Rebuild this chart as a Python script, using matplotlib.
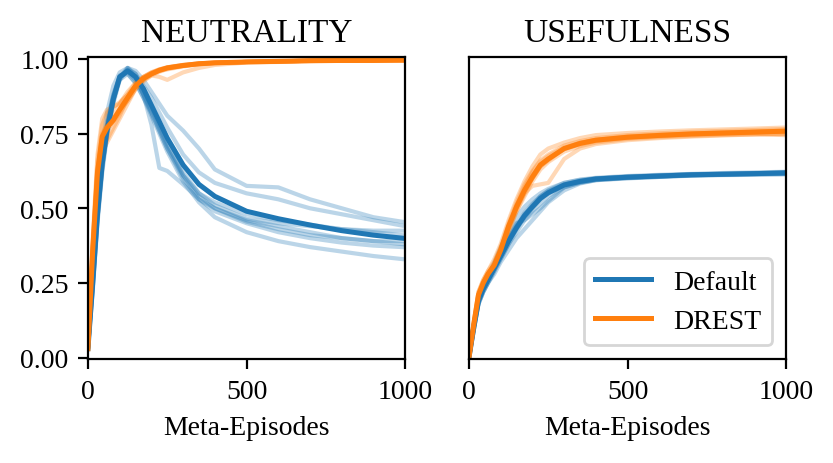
import matplotlib
matplotlib.use("Agg")
import matplotlib.pyplot as plt

plt.rcParams["font.family"] = ["Liberation Serif", "DejaVu Serif"]

# meta-episode sample points shared by all curves
episodes = [0, 15, 30, 45, 60, 80, 100, 125, 150, 175, 200, 225, 250, 300,
            350, 400, 500, 600, 700, 800, 900, 990]

# NEUTRALITY - Default agent
neu_default_mean = [0.03, 0.25, 0.48, 0.65, 0.76, 0.866, 0.94, 0.96, 0.94, 0.90, 0.845,
                    0.79, 0.735, 0.645, 0.58, 0.54, 0.49, 0.465, 0.444, 0.425, 0.41, 0.40]
neu_default_runs = [
    [0.03, 0.22, 0.45, 0.62, 0.74, 0.85, 0.93, 0.97, 0.96, 0.93, 0.89, 0.85, 0.81, 0.76, 0.70, 0.63, 0.575, 0.57, 0.53, 0.50, 0.47, 0.455],
    [0.03, 0.28, 0.52, 0.70, 0.82, 0.91, 0.955, 0.97, 0.94, 0.88, 0.78, 0.635, 0.625, 0.58, 0.53, 0.50, 0.46, 0.44, 0.42, 0.40, 0.39, 0.38],
    [0.03, 0.24, 0.47, 0.64, 0.75, 0.86, 0.93, 0.965, 0.95, 0.91, 0.87, 0.82, 0.77, 0.68, 0.62, 0.585, 0.55, 0.53, 0.50, 0.48, 0.46, 0.442],
    [0.03, 0.26, 0.50, 0.67, 0.78, 0.88, 0.945, 0.95, 0.92, 0.87, 0.82, 0.76, 0.70, 0.61, 0.55, 0.52, 0.48, 0.46, 0.445, 0.43, 0.42, 0.41],
    [0.03, 0.25, 0.49, 0.66, 0.77, 0.87, 0.94, 0.96, 0.94, 0.88, 0.83, 0.77, 0.71, 0.62, 0.55, 0.51, 0.465, 0.45, 0.44, 0.43, 0.425, 0.425],
    [0.03, 0.23, 0.46, 0.63, 0.75, 0.86, 0.94, 0.97, 0.95, 0.90, 0.84, 0.78, 0.72, 0.61, 0.54, 0.50, 0.455, 0.43, 0.41, 0.40, 0.39, 0.39],
    [0.03, 0.27, 0.51, 0.68, 0.79, 0.88, 0.94, 0.955, 0.93, 0.88, 0.82, 0.76, 0.70, 0.60, 0.53, 0.49, 0.45, 0.42, 0.40, 0.385, 0.375, 0.37],
    [0.03, 0.25, 0.48, 0.65, 0.77, 0.87, 0.93, 0.95, 0.92, 0.87, 0.81, 0.75, 0.69, 0.59, 0.52, 0.47, 0.42, 0.39, 0.37, 0.355, 0.34, 0.33],
]

# NEUTRALITY - DREST agent
neu_drest_mean = [0.03, 0.36, 0.62, 0.74, 0.77, 0.795, 0.83, 0.87, 0.91, 0.935, 0.95,
                  0.962, 0.97, 0.978, 0.984, 0.987, 0.99, 0.992, 0.994, 0.995, 0.995, 0.996]
neu_drest_runs = [
    [0.03, 0.38, 0.66, 0.78, 0.82, 0.84, 0.85, 0.88, 0.92, 0.94, 0.955, 0.965, 0.972, 0.98, 0.985, 0.988, 0.99, 0.992, 0.994, 0.995, 0.995, 0.996],
    [0.03, 0.33, 0.58, 0.70, 0.73, 0.77, 0.81, 0.87, 0.91, 0.935, 0.95, 0.96, 0.97, 0.978, 0.984, 0.987, 0.99, 0.992, 0.994, 0.995, 0.996, 0.996],
    [0.03, 0.37, 0.63, 0.75, 0.78, 0.80, 0.83, 0.86, 0.90, 0.93, 0.945, 0.94, 0.93, 0.955, 0.97, 0.98, 0.988, 0.99, 0.993, 0.995, 0.995, 0.996],
    [0.03, 0.35, 0.61, 0.73, 0.77, 0.81, 0.85, 0.89, 0.92, 0.94, 0.955, 0.965, 0.972, 0.98, 0.985, 0.988, 0.99, 0.992, 0.994, 0.995, 0.996, 0.996],
    [0.03, 0.36, 0.62, 0.74, 0.76, 0.79, 0.82, 0.86, 0.90, 0.925, 0.945, 0.957, 0.967, 0.977, 0.983, 0.987, 0.99, 0.992, 0.994, 0.995, 0.996, 0.996],
    [0.03, 0.40, 0.68, 0.80, 0.83, 0.84, 0.855, 0.88, 0.91, 0.935, 0.95, 0.962, 0.97, 0.978, 0.984, 0.987, 0.99, 0.992, 0.994, 0.995, 0.996, 0.996],
    [0.03, 0.32, 0.57, 0.69, 0.72, 0.76, 0.80, 0.85, 0.90, 0.93, 0.95, 0.96, 0.965, 0.975, 0.982, 0.986, 0.99, 0.992, 0.994, 0.995, 0.996, 0.996],
    [0.03, 0.36, 0.62, 0.74, 0.78, 0.80, 0.83, 0.87, 0.91, 0.94, 0.953, 0.963, 0.97, 0.978, 0.984, 0.987, 0.99, 0.992, 0.994, 0.995, 0.996, 0.996],
]

# USEFULNESS - Default agent
use_default_mean = [0.0, 0.10, 0.19, 0.23, 0.26, 0.30, 0.34, 0.39, 0.435, 0.475, 0.505,
                    0.533, 0.552, 0.578, 0.59, 0.598, 0.604, 0.608, 0.612, 0.614, 0.616, 0.618]
use_default_runs = [
    [0.0, 0.10, 0.19, 0.23, 0.26, 0.30, 0.34, 0.39, 0.44, 0.48, 0.51, 0.54, 0.56, 0.585, 0.595, 0.60, 0.606, 0.61, 0.614, 0.616, 0.618, 0.62],
    [0.0, 0.09, 0.18, 0.22, 0.25, 0.28, 0.32, 0.36, 0.40, 0.43, 0.46, 0.49, 0.52, 0.56, 0.583, 0.594, 0.602, 0.606, 0.61, 0.612, 0.614, 0.615],
    [0.0, 0.11, 0.20, 0.24, 0.27, 0.32, 0.37, 0.42, 0.47, 0.505, 0.53, 0.55, 0.565, 0.585, 0.596, 0.602, 0.608, 0.612, 0.615, 0.618, 0.62, 0.622],
    [0.0, 0.10, 0.19, 0.23, 0.26, 0.30, 0.34, 0.40, 0.45, 0.46, 0.48, 0.50, 0.525, 0.57, 0.585, 0.594, 0.60, 0.605, 0.61, 0.612, 0.614, 0.616],
    [0.0, 0.10, 0.18, 0.22, 0.25, 0.29, 0.33, 0.38, 0.43, 0.47, 0.50, 0.53, 0.55, 0.575, 0.588, 0.597, 0.603, 0.607, 0.611, 0.614, 0.616, 0.618],
    [0.0, 0.11, 0.20, 0.24, 0.27, 0.31, 0.35, 0.40, 0.445, 0.485, 0.515, 0.54, 0.558, 0.58, 0.592, 0.60, 0.606, 0.61, 0.613, 0.615, 0.617, 0.62],
    [0.0, 0.09, 0.18, 0.22, 0.25, 0.29, 0.33, 0.38, 0.42, 0.46, 0.49, 0.515, 0.54, 0.57, 0.586, 0.595, 0.601, 0.605, 0.609, 0.611, 0.612, 0.613],
    [0.0, 0.10, 0.19, 0.23, 0.26, 0.30, 0.35, 0.40, 0.44, 0.48, 0.51, 0.535, 0.553, 0.578, 0.59, 0.598, 0.604, 0.608, 0.612, 0.614, 0.616, 0.619],
]

# USEFULNESS - DREST agent
use_drest_mean = [0.0, 0.11, 0.21, 0.25, 0.28, 0.31, 0.36, 0.44, 0.505, 0.56, 0.605,
                  0.645, 0.665, 0.70, 0.717, 0.728, 0.738, 0.744, 0.749, 0.752, 0.755, 0.758]
use_drest_runs = [
    [0.0, 0.11, 0.21, 0.25, 0.28, 0.31, 0.36, 0.44, 0.50, 0.56, 0.60, 0.64, 0.66, 0.70, 0.72, 0.73, 0.74, 0.746, 0.75, 0.754, 0.757, 0.76],
    [0.0, 0.12, 0.22, 0.26, 0.29, 0.33, 0.38, 0.46, 0.53, 0.59, 0.64, 0.68, 0.70, 0.72, 0.735, 0.745, 0.752, 0.757, 0.761, 0.764, 0.767, 0.77],
    [0.0, 0.10, 0.20, 0.24, 0.27, 0.30, 0.35, 0.43, 0.50, 0.55, 0.575, 0.58, 0.585, 0.665, 0.70, 0.715, 0.728, 0.735, 0.74, 0.744, 0.747, 0.75],
    [0.0, 0.11, 0.21, 0.25, 0.28, 0.31, 0.36, 0.44, 0.51, 0.57, 0.62, 0.655, 0.675, 0.705, 0.72, 0.73, 0.738, 0.743, 0.748, 0.751, 0.754, 0.757],
    [0.0, 0.11, 0.20, 0.24, 0.27, 0.30, 0.35, 0.43, 0.49, 0.55, 0.60, 0.64, 0.665, 0.698, 0.714, 0.725, 0.735, 0.741, 0.745, 0.748, 0.75, 0.745],
    [0.0, 0.12, 0.22, 0.26, 0.29, 0.32, 0.37, 0.45, 0.52, 0.58, 0.625, 0.66, 0.68, 0.71, 0.725, 0.735, 0.745, 0.751, 0.756, 0.759, 0.762, 0.765],
    [0.0, 0.10, 0.20, 0.24, 0.27, 0.30, 0.35, 0.42, 0.49, 0.54, 0.59, 0.63, 0.655, 0.69, 0.708, 0.72, 0.732, 0.738, 0.742, 0.745, 0.747, 0.748],
    [0.0, 0.11, 0.21, 0.25, 0.28, 0.31, 0.36, 0.44, 0.51, 0.56, 0.61, 0.645, 0.665, 0.70, 0.717, 0.728, 0.738, 0.744, 0.749, 0.752, 0.755, 0.758],
]

BLUE = "#1f77b4"
ORANGE = "#ff7f0e"

fig = plt.figure(figsize=(4.165, 2.32), dpi=200)
ax1 = fig.add_axes([0.1056, 0.224, 0.3808, 0.650])
ax2 = fig.add_axes([0.563, 0.224, 0.3808, 0.650])

panels = [
    (ax1, "NEUTRALITY", neu_default_runs, neu_default_mean, neu_drest_runs, neu_drest_mean),
    (ax2, "USEFULNESS", use_default_runs, use_default_mean, use_drest_runs, use_drest_mean),
]

for ax, title, d_runs, d_mean, r_runs, r_mean in panels:
    for run in d_runs:
        ax.plot(episodes, run, color=BLUE, alpha=0.3, lw=1.5)
    for run in r_runs:
        ax.plot(episodes, run, color=ORANGE, alpha=0.3, lw=1.5)
    ax.plot(episodes, d_mean, color=BLUE, lw=1.8, label="Default")
    ax.plot(episodes, r_mean, color=ORANGE, lw=1.8, label="DREST")
    ax.set_title(title, fontsize=12)
    ax.set_xlim(0, 1000)
    ax.set_ylim(-0.005, 1.005)
    ax.set_xticks([0, 500, 1000])
    ax.set_xlabel("Meta-Episodes", fontsize=10)
    ax.tick_params(labelsize=10)

ax1.set_yticks([0, 0.25, 0.5, 0.75, 1.0])
ax2.set_yticks([])
ax2.legend(loc="lower right", fontsize=10)

fig.savefig("out.png", dpi=200)
